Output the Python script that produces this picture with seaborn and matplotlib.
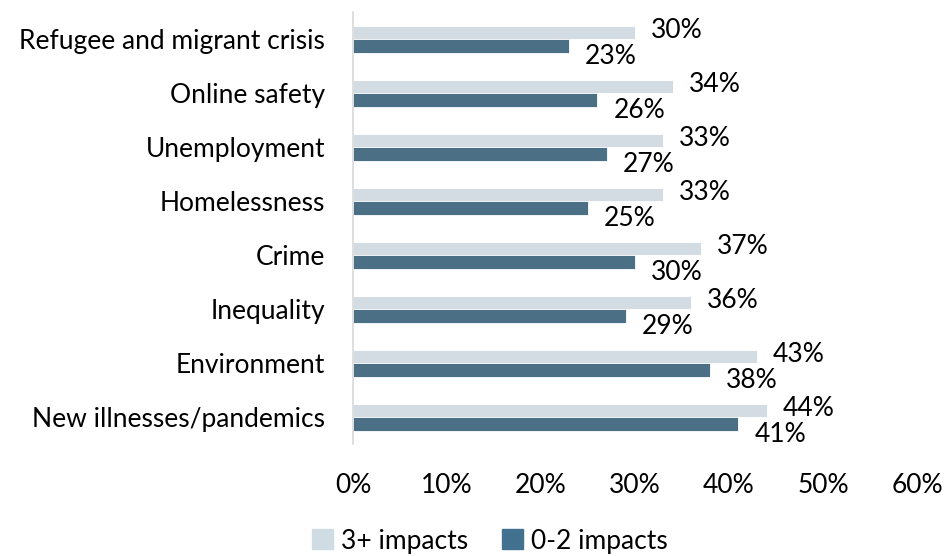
import numpy as np
import matplotlib
matplotlib.use("Agg")
import matplotlib.pyplot as plt
import pandas as pd
import seaborn as sns

sns.set_style("white")
plt.rcParams['font.family'] = ['Lato', 'DejaVu Sans']

categories = ["Refugee and migrant crisis", "Online safety", "Unemployment",
              "Homelessness", "Crime", "Inequality", "Environment",
              "New illnesses/pandemics"]
impacts_3plus = [30, 34, 33, 33, 37, 36, 43, 44]
impacts_0to2 = [23, 26, 27, 25, 30, 29, 38, 41]
series = ["3+ impacts", "0-2 impacts"]
colors = ["#D0DCE4", "#41718F"]
fs = 19

df = pd.DataFrame({
    "category": categories * 2,
    "value": impacts_3plus + impacts_0to2,
    "group": [series[0]] * len(categories) + [series[1]] * len(categories),
})

fig = plt.figure(figsize=(9.45, 5.56), dpi=100)
ax = fig.add_axes([353 / 945, 1 - 444 / 556, (917 - 353) / 945, 432 / 556])

sns.barplot(data=df, y="category", x="value", hue="group", order=categories,
            hue_order=series, palette=colors, width=0.5, orient="h",
            edgecolor="white", linewidth=0.6, ax=ax, legend=False)

# value labels, light ones nudged up, dark ones nudged down
for cont, dy in zip(ax.containers, [1.5, -7.5]):
    anns = ax.bar_label(cont, labels=[f"{v:.0f}%" for v in cont.datavalues],
                        padding=12, fontsize=fs, color="black")
    for a in anns:
        a.xyann = (11.5, dy)

ax.set_xlim(0, 60)
ax.set_ylim(7.5, -0.5)
ax.set_xticks(np.arange(0, 61, 10))
ax.set_xticklabels([f"{t}%" for t in range(0, 61, 10)], fontsize=fs)
ax.tick_params(axis="x", length=0, pad=21, labelcolor="black")
ax.tick_params(axis="y", length=0, pad=20, labelsize=fs, labelcolor="black")
ax.set_xlabel("")
ax.set_ylabel("")
for s in ["top", "right", "bottom"]:
    ax.spines[s].set_visible(False)
ax.spines["left"].set_color("#D9D9D9")
ax.spines["left"].set_linewidth(1.2)

handles = [plt.Rectangle((0, 0), 1, 1, color=c) for c in colors]
fig.legend(handles, series, loc="center", bbox_to_anchor=(490 / 945, 1 - 541 / 556),
           ncol=2, frameon=False, fontsize=fs, handlelength=0.8, handleheight=0.8,
           handletextpad=0.3, columnspacing=1.3, labelcolor="black")

fig.savefig("out.png", dpi=100)
